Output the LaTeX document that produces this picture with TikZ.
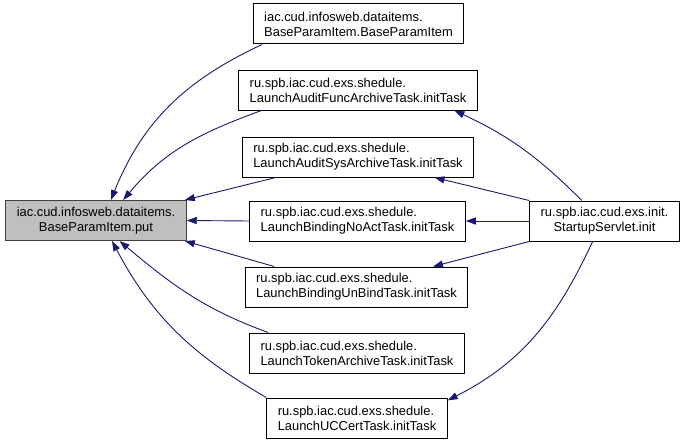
\documentclass[tikz,border=0pt]{standalone}
\usepackage{fontspec}
\setmainfont{Liberation Sans}
\usepackage{tikz}
\usetikzlibrary{arrows.meta,positioning}
\definecolor{edgeblue}{HTML}{191970}

\begin{document}
\begin{tikzpicture}[x=1pt,y=1pt,
    callbox/.style={draw=black, line width=1pt, fill=white, align=left, minimum height=40pt,
      inner xsep=11pt, font=\fontsize{12.9}{15}\selectfont},
    rootbox/.style={callbox, align=center, fill=gray!50, draw=black!75},
    endbox/.style={callbox, align=center},
    callarrow/.style={-{Triangle[length=10pt,width=7pt]}, draw=edgeblue, line width=0.9pt}]
            \useasboundingbox (0,0) rectangle (687,-444);
            %Nodes
            \node[rootbox] (put) at (96,-220.5) {iac.cud.infosweb.dataitems.\\BaseParamItem.put};
            \node[callbox] (bpi) at (358.5,-24) {iac.cud.infosweb.dataitems.\\BaseParamItem.BaseParamItem};
            \node[callbox] (func) at (358,-90) {ru.spb.iac.cud.exs.shedule.\\LaunchAuditFuncArchiveTask.initTask};
            \node[callbox] (sys) at (358,-157) {ru.spb.iac.cud.exs.shedule.\\LaunchAuditSysArchiveTask.initTask};
            \node[callbox] (noact) at (357.5,-221) {ru.spb.iac.cud.exs.shedule.\\LaunchBindingNoActTask.initTask};
            \node[callbox] (unbind) at (356.5,-287) {ru.spb.iac.cud.exs.shedule.\\LaunchBindingUnBindTask.initTask};
            \node[callbox] (token) at (357,-353) {ru.spb.iac.cud.exs.shedule.\\LaunchTokenArchiveTask.initTask};
            \node[callbox] (uccert) at (357,-418) {ru.spb.iac.cud.exs.shedule.\\LaunchUCCertTask.initTask};
            \node[endbox] (servlet) at (604.5,-221) {ru.spb.iac.cud.exs.init.\\StartupServlet.init};
            %Calls into put
            \draw[callarrow] (bpi.192) to[out=205,in=68] (put.54);
            \draw[callarrow] (func.192) to[out=200,in=50] (put.37);
            \draw[callarrow] (sys.194) -- (put.13);
            \draw[callarrow] (noact.west) -- (put.east);
            \draw[callarrow] (unbind.166) -- (put.-13);
            \draw[callarrow] (token.167) to[out=160,in=-40] (put.-41);
            \draw[callarrow] (uccert.north west) to[out=150,in=-62] (put.-52);
            %Calls from servlet
            \draw[callarrow] (servlet.138) to[out=135,in=-25] (func.-12);
            \draw[callarrow] (servlet.north west) -- (sys.-15);
            \draw[callarrow] (servlet.west) -- (noact.east);
            \draw[callarrow] (servlet.south west) -- (unbind.15);
            \draw[callarrow] (servlet.240) to[out=245,in=27] (uccert.11);
        \end{tikzpicture}
\end{document}
